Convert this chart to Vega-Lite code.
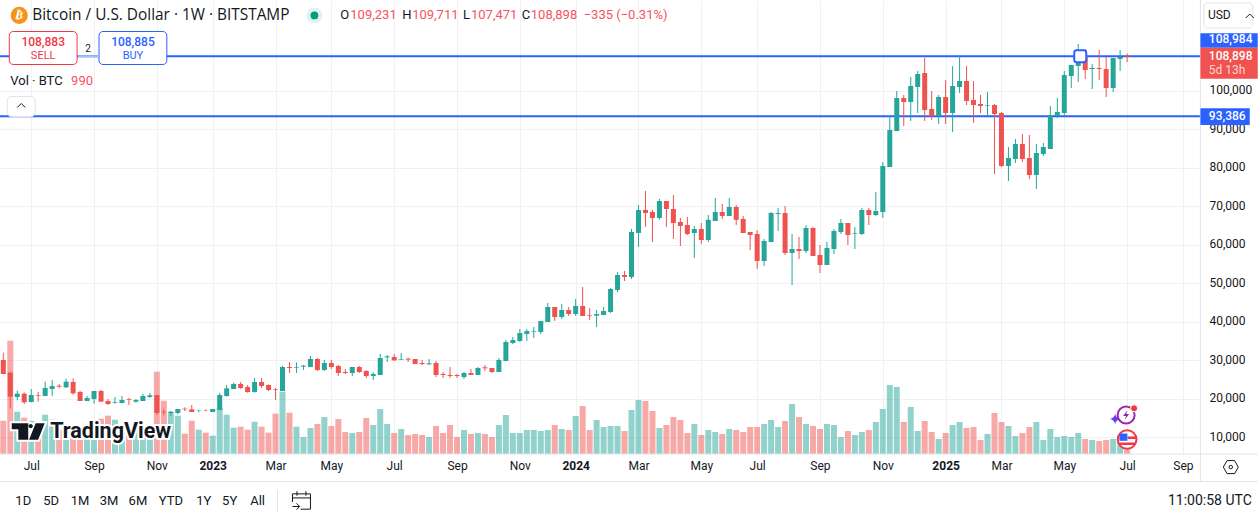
{
  "$schema": "https://vega.github.io/schema/vega-lite/v6.json",
  "width": 1200,
  "height": 454,
  "autosize": "none",
  "padding": {"left": 0, "top": 0, "right": 58, "bottom": 65},
  "background": "white",
  "config": {"font": "Roboto", "view": {"stroke": null}},
  "datasets": {
    "candles": [
      {"date":"2022-06-06","open":30035,"high":31941,"low":26397,"close":26397,"volume":6660},
      {"date":"2022-06-13","open":26743,"high":27003,"low":17474,"close":20506,"volume":22660},
      {"date":"2022-06-20","open":20420,"high":22065,"low":19640,"close":21286,"volume":8460},
      {"date":"2022-06-27","open":21286,"high":21632,"low":18600,"close":19033,"volume":7260},
      {"date":"2022-07-04","open":19120,"high":22499,"low":19033,"close":20939,"volume":6660},
      {"date":"2022-07-11","open":20853,"high":21719,"low":19207,"close":20679,"volume":5800},
      {"date":"2022-07-18","open":20679,"high":24405,"low":20679,"close":22758,"volume":7860},
      {"date":"2022-07-25","open":22499,"high":24837,"low":20679,"close":23278,"volume":6860},
      {"date":"2022-08-01","open":23365,"high":23798,"low":22672,"close":23105,"volume":4800},
      {"date":"2022-08-08","open":22932,"high":25184,"low":22758,"close":24405,"volume":5000},
      {"date":"2022-08-15","open":24318,"high":25271,"low":21026,"close":21372,"volume":3600},
      {"date":"2022-08-22","open":21719,"high":21978,"low":19380,"close":19380,"volume":3600},
      {"date":"2022-08-29","open":19380,"high":20679,"low":19380,"close":20160,"volume":4400},
      {"date":"2022-09-05","open":19900,"high":21978,"low":18687,"close":21978,"volume":5400},
      {"date":"2022-09-12","open":21978,"high":22239,"low":19120,"close":19207,"volume":7060},
      {"date":"2022-09-19","open":19380,"high":19900,"low":18340,"close":18600,"volume":7660},
      {"date":"2022-09-26","open":18947,"high":20420,"low":18687,"close":19120,"volume":6860},
      {"date":"2022-10-03","open":18860,"high":20679,"low":18773,"close":19640,"volume":4800},
      {"date":"2022-10-10","open":19813,"high":20160,"low":18340,"close":19640,"volume":4000},
      {"date":"2022-10-17","open":19207,"high":19900,"low":18947,"close":19640,"volume":4800},
      {"date":"2022-10-24","open":19380,"high":21199,"low":19380,"close":20679,"volume":4000},
      {"date":"2022-10-31","open":20420,"high":21459,"low":20160,"close":20853,"volume":3400},
      {"date":"2022-11-07","open":20939,"high":20939,"low":15741,"close":16261,"volume":16460},
      {"date":"2022-11-14","open":16608,"high":17300,"low":15654,"close":16435,"volume":10660},
      {"date":"2022-11-21","open":16261,"high":16781,"low":15481,"close":16608,"volume":8260},
      {"date":"2022-11-28","open":16261,"high":17300,"low":15915,"close":17300,"volume":7660},
      {"date":"2022-12-05","open":17387,"high":17734,"low":16781,"close":17214,"volume":4060},
      {"date":"2022-12-12","open":17214,"high":18340,"low":16521,"close":16521,"volume":6660},
      {"date":"2022-12-19","open":16867,"high":17127,"low":16435,"close":16954,"volume":4860},
      {"date":"2022-12-26","open":16954,"high":17214,"low":16694,"close":16867,"volume":4260},
      {"date":"2023-01-02","open":16521,"high":17300,"low":16521,"close":17300,"volume":3660},
      {"date":"2023-01-09","open":17041,"high":21459,"low":17041,"close":20939,"volume":9260},
      {"date":"2023-01-16","open":20679,"high":23538,"low":20506,"close":22672,"volume":7860},
      {"date":"2023-01-23","open":22499,"high":24144,"low":22499,"close":23798,"volume":5260},
      {"date":"2023-01-30","open":23798,"high":24318,"low":22499,"close":22758,"volume":5460},
      {"date":"2023-02-06","open":23018,"high":23538,"low":21546,"close":21719,"volume":4860},
      {"date":"2023-02-13","open":21719,"high":25357,"low":21546,"close":24318,"volume":6460},
      {"date":"2023-02-20","open":24318,"high":25357,"low":22758,"close":23278,"volume":5460},
      {"date":"2023-02-27","open":23538,"high":23711,"low":21978,"close":22239,"volume":4260},
      {"date":"2023-03-06","open":22499,"high":22758,"low":19640,"close":22325,"volume":8060},
      {"date":"2023-03-13","open":21978,"high":28476,"low":21978,"close":28216,"volume":12460},
      {"date":"2023-03-20","open":28216,"high":29516,"low":26657,"close":27956,"volume":8260},
      {"date":"2023-03-27","open":27956,"high":29429,"low":26657,"close":28130,"volume":5460},
      {"date":"2023-04-03","open":28303,"high":28736,"low":27437,"close":28563,"volume":3400},
      {"date":"2023-04-10","open":28217,"high":31075,"low":28217,"close":30296,"volume":5200},
      {"date":"2023-04-17","open":30296,"high":30556,"low":27177,"close":27437,"volume":6000},
      {"date":"2023-04-24","open":27437,"high":30036,"low":27177,"close":29256,"volume":7400},
      {"date":"2023-05-01","open":29256,"high":30036,"low":27697,"close":28217,"volume":5600},
      {"date":"2023-05-08","open":28477,"high":28736,"low":25878,"close":26657,"volume":7000},
      {"date":"2023-05-15","open":26917,"high":27697,"low":26397,"close":26657,"volume":4400},
      {"date":"2023-05-22","open":26657,"high":28217,"low":25878,"close":28217,"volume":4200},
      {"date":"2023-05-29","open":28217,"high":28477,"low":26657,"close":26917,"volume":4400},
      {"date":"2023-06-05","open":27177,"high":27437,"low":25358,"close":25878,"volume":7200},
      {"date":"2023-06-12","open":25878,"high":26917,"low":24838,"close":26397,"volume":5800},
      {"date":"2023-06-19","open":26138,"high":31595,"low":26138,"close":30556,"volume":9000},
      {"date":"2023-06-26","open":30729,"high":31335,"low":29516,"close":30988,"volume":6000},
      {"date":"2023-07-03","open":30815,"high":31595,"low":29776,"close":29949,"volume":4200},
      {"date":"2023-07-10","open":30122,"high":31855,"low":30036,"close":30296,"volume":5000},
      {"date":"2023-07-17","open":30382,"high":30642,"low":29516,"close":30122,"volume":3800},
      {"date":"2023-07-24","open":30296,"high":30296,"low":28996,"close":28996,"volume":4000},
      {"date":"2023-07-31","open":29256,"high":30036,"low":28736,"close":28996,"volume":3800},
      {"date":"2023-08-07","open":28909,"high":30296,"low":28736,"close":29170,"volume":3400},
      {"date":"2023-08-14","open":29256,"high":29776,"low":25618,"close":26138,"volume":5600},
      {"date":"2023-08-21","open":26397,"high":26917,"low":25358,"close":26138,"volume":4200},
      {"date":"2023-08-28","open":26138,"high":28217,"low":25358,"close":25878,"volume":5800},
      {"date":"2023-09-04","open":26138,"high":26397,"low":25358,"close":25878,"volume":3400},
      {"date":"2023-09-11","open":25618,"high":26917,"low":25098,"close":26657,"volume":4800},
      {"date":"2023-09-18","open":26657,"high":27697,"low":26138,"close":26138,"volume":4000},
      {"date":"2023-09-25","open":26138,"high":28217,"low":26138,"close":27957,"volume":4200},
      {"date":"2023-10-02","open":28130,"high":28736,"low":27177,"close":27870,"volume":4000},
      {"date":"2023-10-09","open":27957,"high":27957,"low":26657,"close":26917,"volume":3400},
      {"date":"2023-10-16","open":26917,"high":30556,"low":26917,"close":30036,"volume":5800},
      {"date":"2023-10-23","open":29776,"high":35234,"low":29776,"close":34714,"volume":7800},
      {"date":"2023-10-30","open":34454,"high":36013,"low":34194,"close":35234,"volume":4200},
      {"date":"2023-11-06","open":34974,"high":38093,"low":34714,"close":37053,"volume":4200},
      {"date":"2023-11-13","open":36793,"high":38093,"low":34974,"close":37573,"volume":4800},
      {"date":"2023-11-20","open":37399,"high":38612,"low":35754,"close":37573,"volume":4800},
      {"date":"2023-11-27","open":37313,"high":40172,"low":36793,"close":40172,"volume":4600},
      {"date":"2023-12-04","open":39912,"high":44850,"low":39912,"close":43810,"volume":4800},
      {"date":"2023-12-11","open":43810,"high":43810,"low":40172,"close":41211,"volume":5800},
      {"date":"2023-12-18","open":41211,"high":44590,"low":40691,"close":43030,"volume":5000},
      {"date":"2023-12-25","open":43030,"high":43810,"low":41471,"close":41991,"volume":4800},
      {"date":"2024-01-01","open":41991,"high":45889,"low":41471,"close":44070,"volume":7600},
      {"date":"2024-01-08","open":44070,"high":49008,"low":41471,"close":41471,"volume":9600},
      {"date":"2024-01-15","open":41731,"high":43550,"low":40431,"close":41558,"volume":4800},
      {"date":"2024-01-22","open":41558,"high":43030,"low":38612,"close":41991,"volume":6800},
      {"date":"2024-01-29","open":41731,"high":43810,"low":41731,"close":42770,"volume":5400},
      {"date":"2024-02-05","open":42510,"high":48748,"low":42251,"close":48488,"volume":5600},
      {"date":"2024-02-12","open":48228,"high":52906,"low":47708,"close":52127,"volume":5600},
      {"date":"2024-02-19","open":52127,"high":53166,"low":50567,"close":51607,"volume":4600},
      {"date":"2024-02-26","open":51608,"high":64082,"low":51088,"close":63303,"volume":8800},
      {"date":"2024-03-04","open":63043,"high":70320,"low":59404,"close":69020,"volume":10800},
      {"date":"2024-03-11","open":69020,"high":73958,"low":64602,"close":68241,"volume":10600},
      {"date":"2024-03-18","open":68501,"high":69020,"low":60704,"close":66941,"volume":8600},
      {"date":"2024-03-25","open":66941,"high":71879,"low":66472,"close":71359,"volume":5200},
      {"date":"2024-04-01","open":71359,"high":71359,"low":64602,"close":69280,"volume":5800},
      {"date":"2024-04-08","open":69280,"high":72919,"low":61483,"close":65642,"volume":7400},
      {"date":"2024-04-15","open":65902,"high":66941,"low":59664,"close":64862,"volume":6800},
      {"date":"2024-04-22","open":65122,"high":67201,"low":62523,"close":62783,"volume":4200},
      {"date":"2024-04-29","open":63043,"high":64862,"low":56546,"close":64082,"volume":6000},
      {"date":"2024-05-06","open":64082,"high":65642,"low":60185,"close":61224,"volume":3800},
      {"date":"2024-05-13","open":61224,"high":67721,"low":60704,"close":66471,"volume":4800},
      {"date":"2024-05-20","open":66162,"high":72139,"low":66162,"close":68501,"volume":4400},
      {"date":"2024-05-27","open":68501,"high":70580,"low":66681,"close":67461,"volume":4000},
      {"date":"2024-06-03","open":67461,"high":72139,"low":67461,"close":69800,"volume":5000},
      {"date":"2024-06-10","open":69800,"high":70320,"low":65122,"close":66471,"volume":4800},
      {"date":"2024-06-17","open":66681,"high":67461,"low":63043,"close":63043,"volume":4400},
      {"date":"2024-06-24","open":63303,"high":63303,"low":58625,"close":62523,"volume":5400},
      {"date":"2024-07-01","open":62783,"high":63823,"low":53687,"close":55766,"volume":5400},
      {"date":"2024-07-08","open":55766,"high":61483,"low":54467,"close":60964,"volume":6000},
      {"date":"2024-07-15","open":60704,"high":68501,"low":60704,"close":68241,"volume":6800},
      {"date":"2024-07-22","open":67981,"high":69540,"low":63562,"close":68241,"volume":5400},
      {"date":"2024-07-29","open":68241,"high":70060,"low":57325,"close":57845,"volume":6600},
      {"date":"2024-08-05","open":57845,"high":62783,"low":49529,"close":58885,"volume":10000},
      {"date":"2024-08-12","open":58885,"high":62003,"low":56286,"close":58365,"volume":7400},
      {"date":"2024-08-19","open":58365,"high":65122,"low":57845,"close":64342,"volume":6000},
      {"date":"2024-08-26","open":64342,"high":64602,"low":57066,"close":57066,"volume":5600},
      {"date":"2024-09-02","open":57325,"high":59924,"low":52647,"close":54727,"volume":5000},
      {"date":"2024-09-09","open":54727,"high":60704,"low":54727,"close":59144,"volume":6000},
      {"date":"2024-09-16","open":58885,"high":64082,"low":57585,"close":63562,"volume":5800},
      {"date":"2024-09-23","open":63303,"high":66681,"low":62783,"close":65642,"volume":3400},
      {"date":"2024-09-30","open":65642,"high":65642,"low":59924,"close":62523,"volume":4600},
      {"date":"2024-10-07","open":62870,"high":64602,"low":58885,"close":63043,"volume":3800},
      {"date":"2024-10-14","open":62783,"high":69540,"low":62523,"close":69020,"volume":4400},
      {"date":"2024-10-21","open":69020,"high":69540,"low":65122,"close":67721,"volume":4800},
      {"date":"2024-10-28","open":67721,"high":73698,"low":67461,"close":68761,"volume":6400},
      {"date":"2024-11-04","open":68501,"high":81496,"low":66941,"close":80457,"volume":9000},
      {"date":"2024-11-11","open":80197,"high":93451,"low":80197,"close":89813,"volume":13800},
      {"date":"2024-11-18","open":89553,"high":99948,"low":89553,"close":98129,"volume":13400},
      {"date":"2024-11-25","open":98129,"high":98909,"low":90852,"close":97090,"volume":6400},
      {"date":"2024-12-02","open":97090,"high":103587,"low":92151,"close":101248,"volume":9400},
      {"date":"2024-12-09","open":100988,"high":105146,"low":94231,"close":104367,"volume":4600},
      {"date":"2024-12-16","open":104627,"high":108525,"low":92151,"close":95011,"volume":6600},
      {"date":"2024-12-23","open":95270,"high":99948,"low":92411,"close":93451,"volume":4400},
      {"date":"2024-12-30","open":93451,"high":98909,"low":91372,"close":98389,"volume":3000},
      {"date":"2025-01-06","open":98389,"high":102807,"low":91372,"close":94231,"volume":4200},
      {"date":"2025-01-13","open":94231,"high":106446,"low":89293,"close":101248,"volume":5800},
      {"date":"2025-01-20","open":100988,"high":109305,"low":99429,"close":102547,"volume":6400},
      {"date":"2025-01-27","open":102547,"high":106446,"low":96310,"close":97350,"volume":5200},
      {"date":"2025-02-03","open":97609,"high":102547,"low":91632,"close":96310,"volume":5400},
      {"date":"2025-02-10","open":96570,"high":98909,"low":94231,"close":96050,"volume":2800},
      {"date":"2025-02-17","open":96137,"high":99689,"low":93451,"close":96310,"volume":4000},
      {"date":"2025-02-24","open":96310,"high":96570,"low":78378,"close":93971,"volume":8200},
      {"date":"2025-03-03","open":94231,"high":94491,"low":80197,"close":80457,"volume":6400},
      {"date":"2025-03-10","open":80457,"high":85395,"low":76558,"close":82536,"volume":5600},
      {"date":"2025-03-17","open":82276,"high":87474,"low":81236,"close":86175,"volume":3600},
      {"date":"2025-03-24","open":86175,"high":88773,"low":81496,"close":82276,"volume":4200},
      {"date":"2025-03-31","open":82536,"high":88513,"low":77078,"close":78118,"volume":5400},
      {"date":"2025-04-07","open":78118,"high":86175,"low":74479,"close":83835,"volume":6400},
      {"date":"2025-04-14","open":83575,"high":86434,"low":83055,"close":85395,"volume":2800},
      {"date":"2025-04-21","open":84875,"high":96050,"low":84875,"close":93711,"volume":5000},
      {"date":"2025-04-28","open":93451,"high":98129,"low":92931,"close":94491,"volume":3400},
      {"date":"2025-05-05","open":94231,"high":105146,"low":93451,"close":104107,"volume":3600},
      {"date":"2025-05-12","open":103847,"high":106706,"low":100728,"close":106706,"volume":3400},
      {"date":"2025-05-19","open":106446,"high":112163,"low":102288,"close":107745,"volume":4200},
      {"date":"2025-05-26","open":109045,"high":110864,"low":103067,"close":105406,"volume":3000},
      {"date":"2025-06-02","open":105666,"high":106966,"low":100468,"close":105926,"volume":2800},
      {"date":"2025-06-09","open":105926,"high":110604,"low":102807,"close":105666,"volume":2600},
      {"date":"2025-06-16","open":105666,"high":108785,"low":98389,"close":100728,"volume":2800},
      {"date":"2025-06-23","open":100728,"high":108525,"low":99689,"close":108525,"volume":3000},
      {"date":"2025-06-30","open":108265,"high":110604,"low":105146,"close":108785,"volume":3000},
      {"date":"2025-07-07","open":109231,"high":109711,"low":107471,"close":108898,"volume":990}
    ]
  },
  "encoding": {
    "x": {
      "field": "date",
      "type": "temporal",
      "title": null,
      "scale": {
        "type": "utc",
        "padding": 0,
        "domain": [
          {"year": 2022, "month": 6, "date": 2, "hours": 16, "minutes": 34, "utc": true},
          {"year": 2025, "month": 9, "date": 18, "hours": 2, "minutes": 24, "utc": true}
        ]
      },
      "axis": {
        "values": [
          {"year": 2022, "month": 7, "date": 4, "utc": true},
          {"year": 2022, "month": 9, "date": 5, "utc": true},
          {"year": 2022, "month": 11, "date": 7, "utc": true},
          {"year": 2023, "month": 1, "date": 2, "utc": true},
          {"year": 2023, "month": 3, "date": 6, "utc": true},
          {"year": 2023, "month": 5, "date": 1, "utc": true},
          {"year": 2023, "month": 7, "date": 3, "utc": true},
          {"year": 2023, "month": 9, "date": 4, "utc": true},
          {"year": 2023, "month": 11, "date": 6, "utc": true},
          {"year": 2024, "month": 1, "date": 1, "utc": true},
          {"year": 2024, "month": 3, "date": 4, "utc": true},
          {"year": 2024, "month": 5, "date": 6, "utc": true},
          {"year": 2024, "month": 7, "date": 1, "utc": true},
          {"year": 2024, "month": 9, "date": 2, "utc": true},
          {"year": 2024, "month": 11, "date": 4, "utc": true},
          {"year": 2025, "month": 1, "date": 6, "utc": true},
          {"year": 2025, "month": 3, "date": 3, "utc": true},
          {"year": 2025, "month": 5, "date": 5, "utc": true},
          {"year": 2025, "month": 7, "date": 7, "utc": true},
          {"year": 2025, "month": 9, "date": 1, "utc": true}
        ],
        "labelExpr": "utcmonth(datum.value) == 0 ? utcFormat(datum.value, '%Y') : utcFormat(datum.value, '%b')",
        "labelFontWeight": {"condition": {"test": "utcmonth(datum.value) == 0", "value": 700}, "value": 400},
        "labelFontSize": 12,
        "labelColor": "#131722",
        "labelPadding": 6,
        "labelOverlap": false,
        "labelFlush": false,
        "ticks": false,
        "domain": false,
        "grid": true,
        "gridColor": "#f0f1f4",
        "gridWidth": 1
      }
    }
  },
  "layer": [
    {
      "data": {"name": "candles"},
      "mark": {"type": "bar", "size": 6, "opacity": 0.5},
      "encoding": {
        "y": {"field": "volume", "type": "quantitative", "axis": null, "scale": {"domain": [0, 90800], "nice": false}},
        "color": {"condition": {"test": "datum.close >= datum.open", "value": "#26a69a"}, "value": "#ef5350"}
      }
    },
    {
      "encoding": {
        "y": {
          "field": "price",
          "type": "quantitative",
          "title": null,
          "scale": {"domain": [5604, 123599], "nice": false, "zero": false},
          "axis": {
            "orient": "right",
            "values": [10000, 20000, 30000, 40000, 50000, 60000, 70000, 80000, 90000, 100000],
            "format": ",d",
            "labelFontSize": 12,
            "labelColor": "#131722",
            "labelPadding": 9,
            "labelOverlap": false,
            "labelFlush": false,
            "labelOffset": -1,
            "ticks": false,
            "domain": false,
            "grid": true,
            "gridColor": "#f0f1f4",
            "gridWidth": 1
          }
        }
      },
      "layer": [
        {
          "data": {"values": [
            {"date": "2022-06-02T17:00:00Z", "end": "2025-09-18T02:00:00Z", "price": 108984},
            {"date": "2022-06-02T17:00:00Z", "end": "2025-09-18T02:00:00Z", "price": 93386}
          ]},
          "mark": {"type": "rule", "color": "#2962ff", "strokeWidth": 2},
          "encoding": {"x2": {"field": "end"}}
        },
        {
          "data": {"name": "candles"},
          "mark": {"type": "rule", "strokeWidth": 1},
          "encoding": {
            "y": {"field": "low", "type": "quantitative"},
            "y2": {"field": "high"},
            "color": {"condition": {"test": "datum.close >= datum.open", "value": "#26a69a"}, "value": "#ef5350"}
          }
        },
        {
          "data": {"name": "candles"},
          "mark": {"type": "bar", "size": 5},
          "encoding": {
            "y": {"field": "open", "type": "quantitative"},
            "y2": {"field": "close"},
            "color": {"condition": {"test": "datum.close >= datum.open", "value": "#26a69a"}, "value": "#ef5350"}
          }
        },
        {
          "data": {"values": [
            {"date": "2022-06-02T17:00:00Z", "end": "2025-11-15", "price": 5604},
            {"date": "2022-06-02T17:00:00Z", "end": "2025-11-15", "price": -1543}
          ]},
          "mark": {"type": "rule", "color": "#e0e3eb", "strokeWidth": 1},
          "encoding": {"x2": {"field": "end"}}
        },
        {
          "data": {"values": [
            {"date": "2025-09-18T12:00:00Z", "price": 123599, "price2": -1543},
            {"date": "2023-03-08", "price": -3752, "price2": -9470}
          ]},
          "mark": {"type": "rule", "color": "#e0e3eb", "strokeWidth": 1},
          "encoding": {"y2": {"field": "price2"}}
        },
        {
          "data": {"values": [
            {"date": "2022-06-12", "end": "2022-08-19", "price": 115412, "price2": 106835, "kind": "sell"}
          ]},
          "mark": {"type": "rect", "fill": "white", "stroke": "#f23645", "strokeWidth": 1, "cornerRadius": 4},
          "encoding": {"x2": {"field": "end"}, "y2": {"field": "price2"}}
        },
        {
          "data": {"values": [
            {"date": "2022-09-10", "end": "2022-11-17", "price": 115412, "price2": 106835, "kind": "buy"}
          ]},
          "mark": {"type": "rect", "fill": "white", "stroke": "#2962ff", "strokeWidth": 1, "cornerRadius": 4},
          "encoding": {"x2": {"field": "end"}, "y2": {"field": "price2"}}
        },
        {
          "data": {"values": [
            {"date": "2022-08-20", "end": "2022-09-10", "price": 108984}
          ]},
          "mark": {"type": "rule", "color": "#a9bcf8", "strokeWidth": 2},
          "encoding": {"x2": {"field": "end"}}
        },
        {
          "data": {"values": [
            {"date": "2022-06-10", "end": "2022-07-08", "price": 98519, "price2": 93321},
            {"date": "2025-09-22", "end": "2025-11-10", "price": 122819, "price2": 116322}
          ]},
          "mark": {"type": "rect", "fill": "white", "stroke": "#e0e3eb", "strokeWidth": 1, "cornerRadius": 4},
          "encoding": {"x2": {"field": "end"}, "y2": {"field": "price2"}}
        },
        {
          "data": {"values": [
            {"date": "2025-09-18T12:00:00Z", "end": "2025-11-15", "price": 114944, "price2": 111202},
            {"date": "2025-09-18T12:00:00Z", "end": "2025-11-07", "price": 95452, "price2": 91111}
          ]},
          "mark": {"type": "rect", "fill": "#2962ff"},
          "encoding": {"x2": {"field": "end"}, "y2": {"field": "price2"}}
        },
        {
          "data": {"values": [
            {"date": "2025-09-18T12:00:00Z", "end": "2025-11-15", "price": 111202, "price2": 103145}
          ]},
          "mark": {"type": "rect", "fill": "#f0534f"},
          "encoding": {"x2": {"field": "end"}, "y2": {"field": "price2"}}
        },
        {
          "data": {"values": [{"date": "2022-06-24", "price": 96180}, {"date": "2025-11-07", "price": 119440}]},
          "mark": {"type": "point", "shape": "M-1,0.5L0,-0.5L1,0.5", "filled": false, "size": 64, "stroke": "#131722", "strokeWidth": 1, "opacity": 1}
        },
        {
          "data": {"values": [{"date": "2025-05-21", "price": 108984}]},
          "mark": {"type": "point", "shape": "M-0.6,-1H0.6Q1,-1 1,-0.6V0.6Q1,1 0.6,1H-0.6Q-1,1 -1,0.6V-0.6Q-1,-1 -0.6,-1Z", "size": 144, "fill": "white", "stroke": "#2962ff", "strokeWidth": 2, "opacity": 1}
        },
        {
          "data": {"values": [{"date": "2022-06-22", "price": 119600}]},
          "mark": {"type": "point", "shape": "circle", "size": 290, "filled": true, "fill": "#f7931a", "strokeWidth": 0, "opacity": 1}
        },
        {
          "data": {"values": [{"date": "2022-06-22", "price": 119600, "label": "₿"}]},
          "mark": {"type": "text", "font": "DejaVu Sans", "fontSize": 11, "fontWeight": "bold", "color": "white", "angle": 14, "align": "center", "baseline": "middle"},
          "encoding": {"text": {"field": "label"}}
        },
        {
          "data": {"values": [{"date": "2023-04-14", "price": 119600}]},
          "mark": {"type": "point", "shape": "circle", "size": 254, "filled": true, "fill": "#dff3ef", "strokeWidth": 0, "opacity": 1}
        },
        {
          "data": {"values": [{"date": "2023-04-14", "price": 119600}]},
          "mark": {"type": "point", "shape": "circle", "size": 60, "filled": true, "fill": "#089981", "strokeWidth": 0, "opacity": 1}
        },
        {
          "data": {"values": [{"date": "2022-07-01", "price": 11450}]},
          "mark": {"type": "point", "shape": "M-1,-0.5H0V0.5H-0.6V-0.13H-1Z M0.45,-0.5H1L0.6,0.5H0.05Z M0.02,-0.33a0.13,0.13 0 1,0 0.26,0a0.13,0.13 0 1,0 -0.26,0Z", "size": 1089, "filled": false, "stroke": "white", "strokeWidth": 4, "opacity": 1}
        },
        {
          "data": {"values": [{"date": "2022-07-01", "price": 11450}]},
          "mark": {"type": "point", "shape": "M-1,-0.5H0V0.5H-0.6V-0.13H-1Z M0.45,-0.5H1L0.6,0.5H0.05Z M0.02,-0.33a0.13,0.13 0 1,0 0.26,0a0.13,0.13 0 1,0 -0.26,0Z", "size": 1089, "filled": true, "fill": "#131722", "strokeWidth": 0, "opacity": 1}
        },
        {
          "data": {"values": [{"date": "2022-07-23", "price": 11322, "label": "TradingView"}]},
          "mark": {"type": "text", "fontSize": 21.5, "fontWeight": 700, "align": "left", "baseline": "middle", "stroke": "white", "strokeWidth": 4, "fill": "white"},
          "encoding": {"text": {"field": "label"}}
        },
        {
          "data": {"values": [{"date": "2022-07-23", "price": 11322, "label": "TradingView"}]},
          "mark": {"type": "text", "fontSize": 21.5, "fontWeight": 700, "align": "left", "baseline": "middle", "color": "#131722"},
          "encoding": {"text": {"field": "label"}}
        },
        {
          "data": {"values": [{"date": "2025-07-06", "price": 15740}]},
          "mark": {"type": "point", "shape": "circle", "size": 290, "filled": false, "stroke": "#9c27b0", "strokeWidth": 2, "fill": "white", "opacity": 1}
        },
        {
          "data": {"values": [{"date": "2025-07-06", "price": 15740}]},
          "mark": {"type": "point", "shape": "M0.3,-1L-0.6,0.2H0L-0.3,1L0.6,-0.2H0Z", "size": 100, "filled": true, "fill": "#8e24aa", "strokeWidth": 0, "opacity": 1}
        },
        {
          "data": {"values": [{"date": "2025-06-25", "price": 14700}]},
          "mark": {"type": "point", "shape": "M0,-1Q0.15,-0.15 1,0Q0.15,0.15 0,1Q-0.15,0.15 -1,0Q-0.15,-0.15 0,-1Z", "size": 110, "filled": true, "fill": "#6a3df0", "strokeWidth": 0, "opacity": 1}
        },
        {
          "data": {"values": [{"date": "2025-07-14", "price": 17481}]},
          "mark": {"type": "point", "shape": "circle", "size": 50, "filled": true, "fill": "#f23645", "stroke": "white", "strokeWidth": 1, "opacity": 1}
        },
        {
          "data": {"values": [{"date": "2025-07-07", "price": 9370}]},
          "mark": {"type": "point", "shape": "circle", "size": 350, "filled": true, "fill": "white", "stroke": "#f23645", "strokeWidth": 2, "opacity": 1}
        },
        {
          "data": {"values": [{"date": "2025-07-07", "price": 9370}]},
          "mark": {"type": "point", "shape": "M0.05,-0.3H0.85V-0.05H0.05Z M-0.85,0.3H0.85V0.55H-0.85Z", "size": 400, "filled": true, "fill": "#f23645", "strokeWidth": 0, "opacity": 1}
        },
        {
          "data": {"values": [{"date": "2025-07-07", "price": 9370}]},
          "mark": {"type": "point", "shape": "M-0.77,-0.6H0.03V0.13H-0.77Z", "size": 400, "filled": true, "fill": "#2962ff", "strokeWidth": 0, "opacity": 1}
        },
        {
          "data": {"values": [{"date": "2025-10-19", "price": 2200}]},
          "mark": {"type": "point", "shape": "M-1,0L-0.5,-0.87H0.5L1,0L0.5,0.87H-0.5Z", "size": 225, "filled": false, "stroke": "#131722", "strokeWidth": 1, "opacity": 1}
        },
        {
          "data": {"values": [{"date": "2025-10-19", "price": 2200}]},
          "mark": {"type": "point", "shape": "circle", "size": 12, "filled": false, "stroke": "#131722", "strokeWidth": 1, "opacity": 1}
        },
        {
          "data": {"values": [{"date": "2023-04-01", "price": -6400}]},
          "mark": {"type": "point", "shape": "M-1,0.2V-0.7H1V1H-0.1 M-1,-0.25H1 M-0.5,-1V-0.5 M0.5,-1V-0.5 M-1,0.7H-0.25 M-0.55,0.35L-0.2,0.7L-0.55,1.05", "size": 324, "filled": false, "stroke": "#131722", "strokeWidth": 1, "opacity": 1}
        },
        {
          "data": {"values": [{"date": "2022-07-05", "price": 119600, "label": "Bitcoin / U.S. Dollar · 1W · BITSTAMP"}]},
          "mark": {"type": "text", "font": "Open Sans", "fontSize": 15.4, "color": "#131722", "align": "left", "baseline": "middle"},
          "encoding": {"text": {"field": "label"}}
        },
        {
          "data": {"values": [
            {"date": "2023-05-10", "price": 119600, "label": "O"},
            {"date": "2023-07-11", "price": 119600, "label": "H"},
            {"date": "2023-09-10", "price": 119600, "label": "L"},
            {"date": "2023-11-08", "price": 119600, "label": "C"},
            {"date": "2022-06-13", "price": 102500, "label": "Vol · BTC"}
          ]},
          "mark": {"type": "text", "fontSize": 13, "color": "#131722", "align": "left", "baseline": "middle"},
          "encoding": {"text": {"field": "label"}}
        },
        {
          "data": {"values": [
            {"date": "2023-05-20", "price": 119600, "label": "109,231"},
            {"date": "2023-07-21", "price": 119600, "label": "109,711"},
            {"date": "2023-09-18", "price": 119600, "label": "107,471"},
            {"date": "2023-11-17", "price": 119600, "label": "108,898"},
            {"date": "2024-01-09", "price": 119600, "label": "−335 (−0.31%)"},
            {"date": "2022-08-13", "price": 102500, "label": "990"}
          ]},
          "mark": {"type": "text", "fontSize": 13, "color": "#f7525f", "align": "left", "baseline": "middle"},
          "encoding": {"text": {"field": "label"}}
        },
        {
          "data": {"values": [{"date": "2022-07-16", "price": 112761, "label": "108,883"}]},
          "mark": {"type": "text", "fontSize": 12, "fontWeight": 500, "color": "#f23645", "align": "center", "baseline": "middle"},
          "encoding": {"text": {"field": "label"}}
        },
        {
          "data": {"values": [{"date": "2022-07-16", "price": 109122, "label": "SELL"}]},
          "mark": {"type": "text", "fontSize": 11, "color": "#f23645", "align": "center", "baseline": "middle"},
          "encoding": {"text": {"field": "label"}}
        },
        {
          "data": {"values": [{"date": "2022-10-14", "price": 112761, "label": "108,885"}]},
          "mark": {"type": "text", "fontSize": 12, "fontWeight": 500, "color": "#2962ff", "align": "center", "baseline": "middle"},
          "encoding": {"text": {"field": "label"}}
        },
        {
          "data": {"values": [{"date": "2022-10-14", "price": 109122, "label": "BUY"}]},
          "mark": {"type": "text", "fontSize": 11, "color": "#2962ff", "align": "center", "baseline": "middle"},
          "encoding": {"text": {"field": "label"}}
        },
        {
          "data": {"values": [{"date": "2022-08-30", "price": 110942, "label": "2"}]},
          "mark": {"type": "text", "fontSize": 10, "color": "#131722", "align": "center", "baseline": "middle"},
          "encoding": {"text": {"field": "label"}}
        },
        {
          "data": {"values": [
            {"date": "2025-09-27", "price": 113463, "label": "108,984"},
            {"date": "2025-09-27", "price": 109122, "label": "108,898"},
            {"date": "2025-09-27", "price": 93372, "label": "93,386"}
          ]},
          "mark": {"type": "text", "fontSize": 12, "fontWeight": 500, "color": "white", "align": "left", "baseline": "middle"},
          "encoding": {"text": {"field": "label"}}
        },
        {
          "data": {"values": [{"date": "2025-09-27", "price": 105406, "label": "5d 13h"}]},
          "mark": {"type": "text", "fontSize": 12, "color": "#fbd5d3", "align": "left", "baseline": "middle"},
          "encoding": {"text": {"field": "label"}}
        },
        {
          "data": {"values": [{"date": "2025-09-26", "price": 119571, "label": "USD"}]},
          "mark": {"type": "text", "fontSize": 12, "color": "#131722", "align": "left", "baseline": "middle"},
          "encoding": {"text": {"field": "label"}}
        },
        {
          "data": {"values": [
            {"date": "2022-06-26", "price": -6740, "label": "1D"},
            {"date": "2022-07-24", "price": -6740, "label": "5D"},
            {"date": "2022-08-22", "price": -6740, "label": "1M"},
            {"date": "2022-09-20", "price": -6740, "label": "3M"},
            {"date": "2022-10-19", "price": -6740, "label": "6M"},
            {"date": "2022-11-21", "price": -6740, "label": "YTD"},
            {"date": "2022-12-24", "price": -6740, "label": "1Y"},
            {"date": "2023-01-19", "price": -6740, "label": "5Y"},
            {"date": "2023-02-16", "price": -6740, "label": "All"}
          ]},
          "mark": {"type": "text", "fontSize": 13, "color": "#131722", "align": "center", "baseline": "middle"},
          "encoding": {"text": {"field": "label"}}
        },
        {
          "data": {"values": [{"date": "2025-11-09", "price": -6740, "label": "11:00:58 UTC"}]},
          "mark": {"type": "text", "fontSize": 14, "color": "#131722", "align": "right", "baseline": "middle"},
          "encoding": {"text": {"field": "label"}}
        }
      ]
    }
  ],
  "resolve": {"scale": {"y": "independent"}}
}
